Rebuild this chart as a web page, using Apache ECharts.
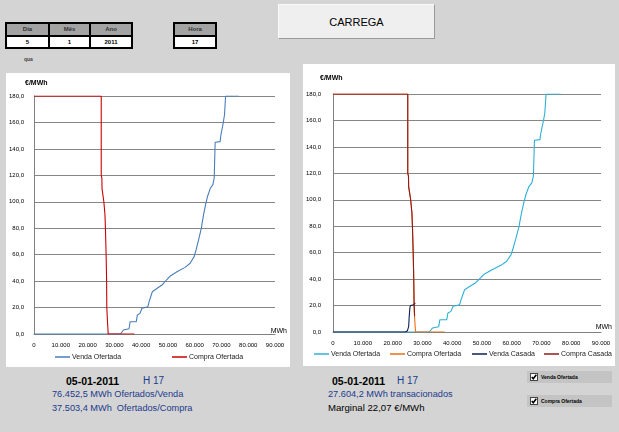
<!DOCTYPE html>
<html>
<head>
<meta charset="utf-8">
<script src="https://cdn.jsdelivr.net/npm/echarts@6/dist/echarts.min.js"></script>
<style>
  html, body { margin:0; padding:0; width:619px; height:432px; background:#d4d4d4; overflow:hidden;
    font-family:"Liberation Sans", Arial, sans-serif; }
  .abs { position:absolute; white-space:nowrap; }
  .panel { position:absolute; background:#ffffff; }
</style>
</head>
<body>
<!-- Date table -->
<div class="abs" style="left:5px;top:22px;width:128px;height:27px;background:#000;"></div>
<div class="abs" style="left:7px;top:24px;width:41px;height:11px;background:#a3a3a3;"></div>
<div class="abs" style="left:50px;top:24px;width:39px;height:11px;background:#a3a3a3;"></div>
<div class="abs" style="left:91px;top:24px;width:40px;height:11px;background:#a3a3a3;"></div>
<div class="abs" style="left:7px;top:37px;width:41px;height:10px;background:#fff;"></div>
<div class="abs" style="left:50px;top:37px;width:39px;height:10px;background:#fff;"></div>
<div class="abs" style="left:91px;top:37px;width:40px;height:10px;background:#fff;"></div>
<div class="abs" style="left:173px;top:22px;width:44px;height:27px;background:#000;"></div>
<div class="abs" style="left:175px;top:24px;width:40px;height:11px;background:#a3a3a3;"></div>
<div class="abs" style="left:175px;top:37px;width:40px;height:10px;background:#fff;"></div>

<div id="tbl"></div>

<!-- Button -->
<div class="abs" style="left:278px;top:4px;width:157px;height:35px;background:#efefef;border-right:1px solid #9a9a9a;border-bottom:1px solid #9a9a9a;border-top:1px solid #fafafa;border-left:1px solid #fafafa;box-sizing:border-box;"></div>
<div class="abs" style="left:278px;top:15px;width:157px;text-align:center;font-size:11px;line-height:14px;color:#000;">CARREGA</div>

<!-- Chart panels -->
<div id="c1" class="panel" style="left:6px;top:73px;width:284px;height:294px;"></div>
<div id="c2" class="panel" style="left:303px;top:64px;width:312px;height:302px;"></div>

<!-- Bottom texts -->
<div class="abs" style="left:66px;top:375px;font-size:10.5px;line-height:12px;font-weight:bold;color:#000;">05-01-2011</div>
<div class="abs" style="left:143px;top:375px;font-size:10px;line-height:12px;color:#1c3a8c;">H 17</div>
<div class="abs" style="left:52px;top:388px;font-size:9.2px;line-height:12px;color:#1c3a8c;">76.452,5 MWh Ofertados/Venda</div>
<div class="abs" style="left:52px;top:402px;font-size:9.2px;line-height:12px;color:#1c3a8c;">37.503,4 MWh&nbsp; Ofertados/Compra</div>

<div class="abs" style="left:332px;top:375px;font-size:10.5px;line-height:12px;font-weight:bold;color:#000;">05-01-2011</div>
<div class="abs" style="left:397px;top:375px;font-size:10px;line-height:12px;color:#1c3a8c;">H 17</div>
<div class="abs" style="left:328px;top:388px;font-size:9.2px;line-height:12px;color:#1c3a8c;">27.604,2 MWh transacionados</div>
<div class="abs" style="left:328px;top:402px;font-size:9.6px;line-height:12px;color:#000;">Marginal 22,07 €/MWh</div>

<!-- Check boxes -->
<div class="abs" style="left:527px;top:371px;width:85px;height:12px;background:#c4c4c4;"></div>
<svg class="abs" style="left:530px;top:373px;" width="8" height="8"><rect x="0.5" y="0.5" width="7" height="7" fill="#fff" stroke="#444"/><polyline points="1.8,4 3.3,5.8 6.3,1.8" fill="none" stroke="#000" stroke-width="1.6"/></svg>
<div class="abs" style="left:541px;top:373px;font-size:5px;line-height:8px;font-weight:bold;color:#000;">Venda Ofertada</div>
<div class="abs" style="left:527px;top:395px;width:85px;height:12px;background:#c4c4c4;"></div>
<svg class="abs" style="left:530px;top:397px;" width="8" height="8"><rect x="0.5" y="0.5" width="7" height="7" fill="#fff" stroke="#444"/><polyline points="1.8,4 3.3,5.8 6.3,1.8" fill="none" stroke="#000" stroke-width="1.6"/></svg>
<div class="abs" style="left:541px;top:397px;font-size:5px;line-height:8px;font-weight:bold;color:#000;">Compra Ofertada</div>

<script>
// ---- table texts ----
const dateHeaders = ["Dia", "Mês", "Ano"];
const dateValues = ["5", "1", "2011"];
const hourHeader = "Hora";
const hourValue = "17";
const weekDay = "qua";

// ---- chart data: [MWh, €/MWh] ----
const vendaOfertada = [
  [0,0],[32300,0],[33400,3],[35500,4],[35900,9.3],[38200,9.3],[38600,14.4],[39600,15.6],
  [40300,19.5],[42500,20.5],[43000,24.5],[43800,29.5],[44200,32],[46000,34.6],[47800,37],
  [49700,41.4],[50900,43.9],[53400,47.1],[56400,50.4],[58300,53.5],[59800,58.5],[60500,63.5],
  [61300,69.8],[61900,74.9],[62500,80],[62800,84],[63400,91],[64100,98],[64800,104],
  [65800,110],[66800,113],[67300,118],[67450,130],[67650,145],[69500,145.5],[69800,150.5],
  [70450,150.5],[70700,160],[71150,166],[71550,180],[76452,180]
];
const compraOfertada = [
  [0,180],[25100,180],[25100,120],[25340,118],[25400,110],[26080,100],[26500,90],[26670,80],
  [26930,60],[27110,40],[27180,20],[27480,8],[27600,4],[27700,0],[37503,0]
];
const vendaCasada = [
  [0,0],[24300,0],[25000,1],[25400,4],[25600,12],[25800,18],[26000,20],[27100,20.5],[27604,22.07]
];
const compraCasada = [
  [0,180],[25100,180],[25100,120],[25340,118],[25400,110],[26080,100],[26500,90],[26670,80],
  [26930,60],[27110,40],[27250,22.07],[27400,12]
];

// ---- axes ----
const xMin = 0, xMax = 90000, xStep = 10000;
const yMin = 0, yMax = 180, yStep = 20;

// tables
(function(){
  const cellsX = [[7,41],[50,39],[91,40]];
  let html = '';
  dateHeaders.forEach((h,i)=>{
    html += `<div class="abs" style="left:${cellsX[i][0]}px;top:25px;width:${cellsX[i][1]}px;text-align:center;font-size:6px;line-height:9px;font-weight:bold;color:#333;">${h}</div>`;
    html += `<div class="abs" style="left:${cellsX[i][0]}px;top:37px;width:${cellsX[i][1]}px;text-align:center;font-size:6px;line-height:10px;font-weight:bold;color:#000;">${dateValues[i]}</div>`;
  });
  html += `<div class="abs" style="left:175px;top:25px;width:40px;text-align:center;font-size:6px;line-height:9px;font-weight:bold;color:#333;">${hourHeader}</div>`;
  html += `<div class="abs" style="left:175px;top:37px;width:40px;text-align:center;font-size:6px;line-height:10px;font-weight:bold;color:#000;">${hourValue}</div>`;
  html += `<div class="abs" style="left:24px;top:56px;font-size:5px;line-height:7px;font-weight:bold;color:#444;">${weekDay}</div>`;
  document.getElementById('tbl').innerHTML = html;
})();

const fmtX = v => String(v).replace(/\B(?=(\d{3})+(?!\d))/g, '.');
const fmtY = v => v.toFixed(1).replace('.', ',');

function legendGraphics(items, y) {
  const g = [];
  items.forEach(it => {
    g.push({ type:'line', shape:{x1:it.x, y1:y, x2:it.x+15, y2:y}, style:{stroke:it.color, lineWidth:1.5} });
    g.push({ type:'text', x:it.x+17, y:y, style:{text:it.name, fontSize:7, fill:'#222',
      textVerticalAlign:'middle', fontFamily:'Liberation Sans, Arial'} });
  });
  return g;
}

function makeOption(grid, series, legendItems, legendY, yName, xName, yLabMargin) {
  return {
    animation:false,
    backgroundColor:'#ffffff',
    grid: grid,
    xAxis: { type:'value', min:xMin, max:xMax, interval:xStep,
      axisLine:{ show:true, onZero:true, lineStyle:{ color:'#808080', width:1 } },
      axisTick:{ show:false }, splitLine:{ show:false },
      axisLabel:{ fontSize:6, color:'#000', margin:8, formatter:fmtX, fontFamily:'Liberation Sans, Arial' } },
    yAxis: { type:'value', min:yMin, max:yMax, interval:yStep,
      axisLine:{ show:true, lineStyle:{ color:'#808080', width:1 } },
      axisTick:{ show:false },
      splitLine:{ show:true, lineStyle:{ color:'#868686', width:1 } },
      axisLabel:{ fontSize:6, color:'#000', margin:yLabMargin, formatter:fmtY, fontFamily:'Liberation Sans, Arial' } },
    series: series.map(s => ({ type:'line', name:s.name, data:s.data, symbol:'none',
      lineStyle:{ color:s.color, width:1.1 }, itemStyle:{ color:s.color } })),
    graphic: [
      { type:'text', x:yName[0], y:yName[1], style:{ text:'€/MWh', fontSize:7, fontWeight:'bold', fill:'#000',
        textVerticalAlign:'middle', fontFamily:'Liberation Sans, Arial' } },
      { type:'text', x:xName[0], y:xName[1], style:{ text:'MWh', fontSize:7, fill:'#000', textAlign:'right',
        textVerticalAlign:'middle', fontFamily:'Liberation Sans, Arial' } }
    ].concat(legendGraphics(legendItems, legendY))
  };
}

const c1 = echarts.init(document.getElementById('c1'), null, { renderer:'canvas' });
c1.setOption(makeOption(
  { left:26, right:15, top:23, bottom:33 },
  [ { name:'Venda Ofertada', data:vendaOfertada, color:'#4a7ebb' },
    { name:'Compra Ofertada', data:compraOfertada, color:'#cc0000' } ],
  [ { name:'Venda Ofertada', x:49, color:'#4a7ebb' },
    { name:'Compra Ofertada', x:166, color:'#cc0000' } ],
  284, [19,10], [281,258], 10
));

const c2 = echarts.init(document.getElementById('c2'), null, { renderer:'canvas' });
c2.setOption(makeOption(
  { left:27, right:14, top:30, bottom:34 },
  [ { name:'Venda Ofertada', data:vendaOfertada, color:'#2eb0d8' },
    { name:'Compra Ofertada', data:compraOfertada, color:'#ec6c14' },
    { name:'Venda Casada', data:vendaCasada, color:'#0f1f4f' },
    { name:'Compra Casada', data:compraCasada, color:'#8e1b1b' } ],
  [ { name:'Venda Ofertada', x:11, color:'#2eb0d8' },
    { name:'Compra Ofertada', x:87, color:'#ec6c14' },
    { name:'Venda Casada', x:169, color:'#0f1f4f' },
    { name:'Compra Casada', x:241, color:'#8e1b1b' } ],
  290, [17,14], [309,263], 12
));
</script>
</body>
</html>
